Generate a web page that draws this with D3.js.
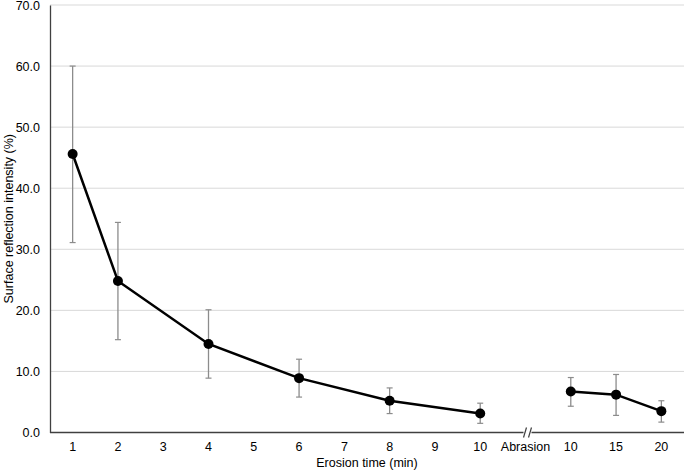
<!DOCTYPE html>
<html><head><meta charset="utf-8">
<script src="https://cdn.jsdelivr.net/npm/d3@7"></script>
<style>body{margin:0;background:#fff}svg{display:block}text{font-family:"Liberation Sans",Arial,sans-serif}</style>
</head><body>
<svg id="c" width="685" height="472"></svg>
<script>
const categories = ["1","2","3","4","5","6","7","8","9","10","Abrasion","10 ","15","20"];
const erosionCats = ["1","2","4","6","8","10"];
const erosionMean = [45.6, 24.8, 14.5, 8.9, 5.2, 3.1];
const erosionLow  = [31.1, 15.2, 8.9, 5.8, 3.1, 1.5];
const erosionHigh = [60.0, 34.4, 20.1, 12.0, 7.3, 4.8];
const abrasionCats = ["10 ","15","20"];
const abrasionMean = [6.7, 6.2, 3.5];
const abrasionLow  = [4.3, 2.8, 1.7];
const abrasionHigh = [9.0, 9.5, 5.2];
const yTicks = [0,10,20,30,40,50,60,70];

(function(){
const svg = d3.select("#c");
const fs = 12.5;
const mL = 50, mR = 684, mT = 5, mB = 432.5;
const x = d3.scaleBand().domain(categories).range([mL, mR]).padding(0);
const y = d3.scaleLinear().domain([0,70]).range([mB, mT]);
const cx = c => x(c) + x.bandwidth()/2;

svg.append("g").selectAll("line").data(yTicks.filter(d=>d>0)).join("line")
  .attr("x1", mL).attr("x2", mR).attr("y1", d=>y(d)).attr("y2", d=>y(d))
  .attr("stroke", "#d9d9d9").attr("stroke-width", 1);

const ya = svg.append("g").attr("transform", `translate(${mL},0)`)
  .call(d3.axisLeft(y).tickValues(yTicks).tickFormat(d3.format(".1f")).tickSize(0).tickPadding(10));
ya.select(".domain").attr("stroke", "#404040").attr("stroke-width", 1.3);
ya.selectAll("text").attr("font-size", fs).attr("fill", "#000").attr("font-family", "Liberation Sans, Arial, sans-serif");

const xa = svg.append("g").attr("transform", `translate(0,${mB})`)
  .call(d3.axisBottom(x).tickSize(0).tickPadding(10));
xa.select(".domain").remove();
xa.selectAll("text").attr("font-size", fs).attr("fill", "#000").attr("font-family", "Liberation Sans, Arial, sans-serif");
const bx = cx("Abrasion") + 2;
svg.append("line").attr("x1", mL).attr("x2", bx - 4).attr("y1", mB).attr("y2", mB).attr("stroke", "#404040").attr("stroke-width", 1.3);
svg.append("line").attr("x1", bx + 4).attr("x2", mR).attr("y1", mB).attr("y2", mB).attr("stroke", "#404040").attr("stroke-width", 1.3);
[-2.5, 2.5].forEach(o => svg.append("line")
  .attr("x1", bx + o - 1.5).attr("x2", bx + o + 1.5).attr("y1", mB + 5).attr("y2", mB - 5)
  .attr("stroke", "#404040").attr("stroke-width", 1.2));

function series(cats, mean, lo, hi) {
  const g = svg.append("g");
  const data = cats.map((c,i)=>({c, m:mean[i], lo:lo[i], hi:hi[i]}));
  g.selectAll(".eb").data(data).join("line").attr("x1", d=>cx(d.c)).attr("x2", d=>cx(d.c))
    .attr("y1", d=>y(d.lo)).attr("y2", d=>y(d.hi)).attr("stroke", "#8c8c8c").attr("stroke-width", 1.3);
  ["lo","hi"].forEach(k => g.selectAll(".cap"+k).data(data).join("line")
    .attr("x1", d=>cx(d.c)-3).attr("x2", d=>cx(d.c)+3).attr("y1", d=>y(d[k])).attr("y2", d=>y(d[k]))
    .attr("stroke", "#8c8c8c").attr("stroke-width", 1.2));
  g.append("path").datum(data).attr("d", d3.line().x(d=>cx(d.c)).y(d=>y(d.m)))
    .attr("fill", "none").attr("stroke", "#000").attr("stroke-width", 2.5);
  g.selectAll("circle").data(data).join("circle").attr("cx", d=>cx(d.c)).attr("cy", d=>y(d.m))
    .attr("r", 5).attr("fill", "#000");
}
series(erosionCats, erosionMean, erosionLow, erosionHigh);
series(abrasionCats, abrasionMean, abrasionLow, abrasionHigh);

svg.append("text").attr("x", (mL+mR)/2).attr("y", 467).attr("text-anchor", "middle")
  .attr("font-size", fs).text("Erosion time (min)");
svg.append("text").attr("transform", `translate(13,${(mT+mB)/2}) rotate(-90)`).attr("text-anchor", "middle")
  .attr("font-size", fs).text("Surface reflection intensity (%)");
})();
</script>
</body></html>
